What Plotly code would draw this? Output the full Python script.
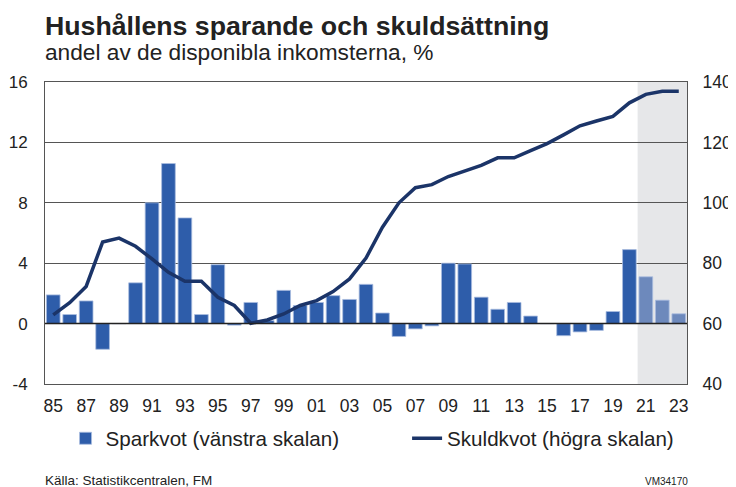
import plotly.graph_objects as go

years = list(range(1985, 2024))
sparkvot = [1.9, 0.6, 1.5, -1.7, 0.0, 2.7, 8.0, 10.6, 7.0, 0.6, 3.9, -0.1,
            1.4, 0.2, 2.2, 1.2, 1.4, 1.85, 1.6, 2.6, 0.7, -0.85, -0.35, -0.15,
            4.0, 3.95, 1.75, 0.95, 1.4, 0.5, 0.0, -0.8, -0.55, -0.45, 0.8, 4.9,
            3.1, 1.55, 0.65]
skuldkvot = [62.9, 66.9, 72.3, 87.0, 88.3, 85.6, 81.4, 77.0, 74.0, 74.0, 68.7, 66.0,
             60.1, 61.2, 63.2, 66.0, 67.6, 70.6, 74.8, 81.7, 91.9, 100.0, 105.0,
             106.0, 108.7, 110.7, 112.4, 114.9, 114.9, 117.3, 119.6, 122.5, 125.5,
             127.1, 128.6, 133.1, 135.9, 136.9, 136.9]
forecast_start = 2021
tick_years = list(range(1985, 2024, 2))
tick_labels = [f"{y % 100:02d}" for y in tick_years]
left_ticks = [-4, 0, 4, 8, 12, 16]
left_labels = ["-4", "0", "4", "8", "12", "16"]
right_ticks = [40, 60, 80, 100, 120, 140]

FONT = "Liberation Sans, Arial, sans-serif"
TXT = "#222222"
bar_colors = ["#2E5DAA" if y < forecast_start else "#6D89BC" for y in years]

fig = go.Figure()
fig.add_trace(go.Bar(
    x=years, y=sparkvot, name="Sparkvot (vänstra skalan)",
    marker=dict(color=bar_colors, line=dict(color="#A9BCE0", width=0.8)),
    yaxis="y", legend="legend",
))
fig.add_trace(go.Scatter(
    x=years, y=skuldkvot, name="Skuldkvot (högra skalan)", mode="lines",
    line=dict(color="#1B3468", width=3.5), yaxis="y2", legend="legend2",
))

fig.add_shape(type="rect", xref="x", yref="paper", x0=forecast_start - 0.5, x1=2023.5,
              y0=0, y1=1, fillcolor="#E6E7E9", line_width=0, layer="below")
fig.add_shape(type="line", xref="paper", yref="y", x0=0, x1=1, y0=0, y1=0,
              line=dict(color="#222222", width=1.5))

leg_common = dict(orientation="h", yanchor="middle", xanchor="left",
                  font=dict(size=20.6, color=TXT, family=FONT), bgcolor="rgba(0,0,0,0)")

# page has an 8px body margin, so the figure is 8px smaller than the window
fig.update_layout(
    width=728, height=479,
    margin=dict(l=37, r=49, t=74, b=103, autoexpand=False),
    paper_bgcolor="white", plot_bgcolor="rgba(0,0,0,0)",
    font=dict(family=FONT, color=TXT, size=17.5),
    bargap=0.17,
    showlegend=True,
    legend=dict(x=0.032, y=-0.18, **leg_common),
    legend2=dict(x=0.564, y=-0.18, **leg_common),
    xaxis=dict(range=[1984.5, 2023.5], tickvals=tick_years, ticktext=tick_labels,
               showgrid=False, showline=True, linecolor="#555555", mirror=True,
               ticks="", tickfont=dict(size=17.5), zeroline=False, ticklabelstandoff=6),
    yaxis=dict(range=[-4, 16], tickvals=left_ticks, ticktext=left_labels,
               showgrid=True, gridcolor="#555555",
               gridwidth=1, showline=True, linecolor="#555555", zeroline=False,
               ticks="", tickfont=dict(size=17), ticklabelstandoff=13),
    yaxis2=dict(range=[40, 140], tickvals=right_ticks, overlaying="y", side="right",
                showgrid=False, showline=True, linecolor="#555555", zeroline=False,
                ticks="", tickfont=dict(size=17.5), ticklabelstandoff=11),
    annotations=[
        dict(text="<b>Hushållens sparande och skuldsättning</b>", xref="paper", yref="paper",
             x=0, y=1.0, xanchor="left", yanchor="middle", yshift=56, xshift=-2,
             showarrow=False, font=dict(size=26.7, color=TXT)),
        dict(text="andel av de disponibla inkomsterna, %", xref="paper", yref="paper",
             x=0, y=1.0, xanchor="left", yanchor="middle", yshift=30, xshift=-2,
             showarrow=False, font=dict(size=22.7, color=TXT)),
        dict(text="Källa: Statistikcentralen, FM", xref="paper", yref="paper",
             x=0, y=0, xanchor="left", yanchor="middle", yshift=-96, xshift=-2,
             showarrow=False, font=dict(size=13.5, color=TXT)),
        dict(text="VM34170", xref="paper", yref="paper",
             x=1.0, y=0, xanchor="right", yanchor="middle", yshift=-97, xshift=3,
             showarrow=False, font=dict(size=10, color=TXT)),
    ],
)

fig.write_html("out.html")
